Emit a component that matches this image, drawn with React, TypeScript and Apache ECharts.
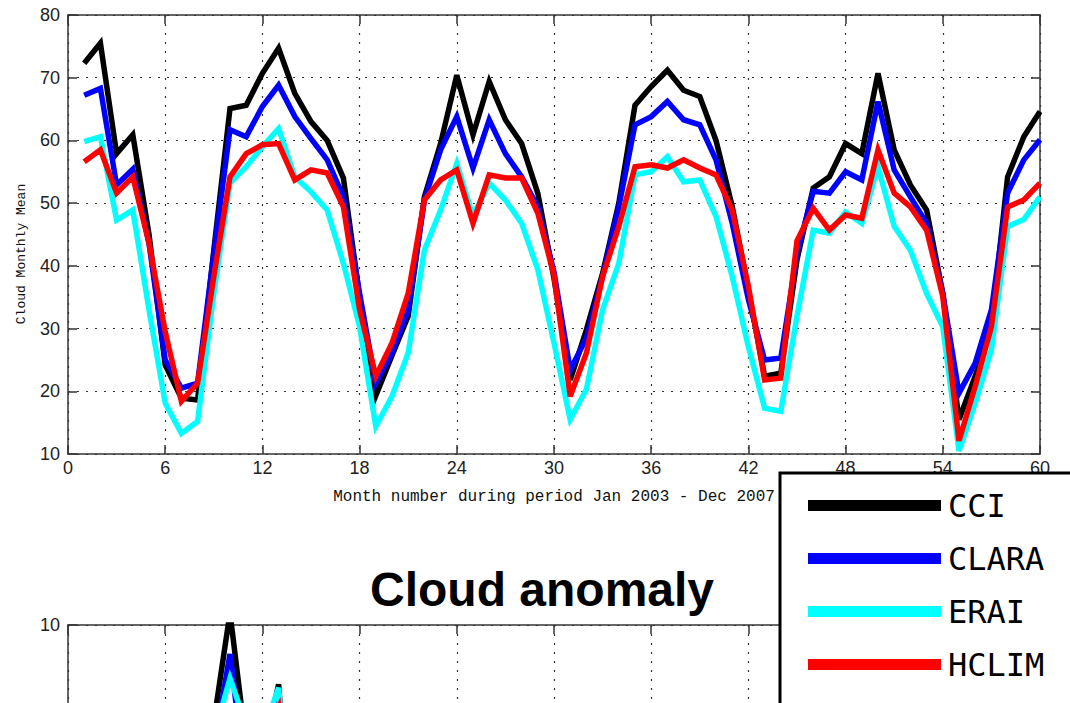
import React, { useEffect, useRef } from "react";
import * as echarts from "echarts";

// Month numbers 1..60 (Jan 2003 - Dec 2007)
const months: number[] = [
  1, 2, 3, 4, 5, 6, 7, 8, 9, 10, 11, 12, 13, 14, 15, 16, 17, 18, 19, 20,
  21, 22, 23, 24, 25, 26, 27, 28, 29, 30, 31, 32, 33, 34, 35, 36, 37, 38, 39, 40,
  41, 42, 43, 44, 45, 46, 47, 48, 49, 50, 51, 52, 53, 54, 55, 56, 57, 58, 59, 60,
];

const seriesNames = ["CCI", "CLARA", "ERAI", "HCLIM"];
const seriesColors = ["#000000", "#0000ff", "#00ffff", "#ff0000"];

const cci: number[] = [
  72.3, 75.5, 57.9, 60.9, 45.0, 24.2, 18.9, 18.6, 42.5, 65.1, 65.6, 70.7,
  74.7, 67.5, 63.0, 60.0, 54.0, 35.0, 19.3, 25.7, 32.0, 51.0, 59.5, 70.4,
  60.9, 69.4, 63.3, 59.5, 51.6, 38.0, 21.8, 29.8, 38.8, 50.0, 65.6, 68.6,
  71.2, 68.0, 67.0, 60.0, 49.5, 36.2, 22.4, 22.9, 41.0, 52.4, 54.2, 59.5,
  57.9, 70.7, 58.5, 52.9, 48.9, 35.6, 15.5, 22.4, 30.3, 54.2, 60.6, 64.6,
];

const clara: number[] = [
  67.2, 68.3, 52.9, 55.4, 43.6, 25.0, 20.5, 21.3, 42.0, 61.7, 60.6, 65.4,
  68.8, 63.8, 60.3, 56.9, 51.0, 35.6, 21.3, 26.1, 33.0, 50.5, 58.5, 63.8,
  55.6, 63.3, 57.9, 54.2, 49.4, 39.0, 23.4, 28.5, 38.3, 49.4, 62.5, 63.8,
  66.2, 63.3, 62.5, 56.9, 46.8, 34.6, 25.0, 25.3, 42.0, 51.9, 51.6, 55.0,
  53.7, 66.2, 55.3, 51.0, 46.8, 35.6, 19.7, 24.5, 33.0, 51.6, 56.9, 60.1,
];

const erai: number[] = [
  59.8, 60.6, 47.3, 48.9, 33.0, 18.1, 13.3, 15.2, 35.6, 53.2, 55.8, 59.0,
  61.9, 54.2, 51.8, 48.9, 40.4, 30.3, 14.4, 19.2, 26.1, 42.5, 48.9, 56.3,
  47.9, 53.2, 50.5, 46.8, 39.4, 27.7, 15.5, 20.3, 33.0, 40.4, 54.5, 55.0,
  57.4, 53.4, 53.7, 47.9, 38.3, 27.1, 17.3, 16.8, 32.0, 45.7, 45.2, 48.6,
  46.8, 55.8, 46.3, 42.5, 35.6, 30.3, 10.5, 18.1, 26.6, 46.3, 47.4, 51.0,
];

const hclim: number[] = [
  56.6, 58.5, 51.6, 54.2, 43.6, 29.5, 18.4, 21.3, 38.3, 54.2, 57.9, 59.3,
  59.5, 53.7, 55.3, 54.8, 49.4, 33.0, 22.4, 27.7, 35.6, 50.5, 53.7, 55.3,
  46.8, 54.5, 54.0, 54.0, 48.4, 38.5, 19.2, 26.1, 38.3, 46.3, 55.8, 56.1,
  55.6, 56.9, 55.6, 54.5, 48.9, 36.7, 21.8, 22.1, 44.0, 49.2, 45.7, 48.1,
  47.6, 58.5, 51.6, 49.4, 45.7, 35.1, 12.1, 20.8, 30.3, 49.4, 50.5, 53.2,
];

const allValues = [cci, clara, erai, hclim];

// anomaly = monthly value minus the mean of the same calendar month over the period
function anomaly(v: number[]): number[] {
  return v.map((x, i) => {
    let s = 0;
    let n = 0;
    for (let j = i % 12; j < v.length; j += 12) {
      s += v[j];
      n++;
    }
    return +(x - s / n).toFixed(2);
  });
}

const frameColor = "#333";
const dotted = { color: "#333", type: [2, 7] as number[], width: 1.2 };
const tickFont = { fontFamily: "Liberation Sans", fontSize: 18, color: "#222" };

export default function App() {
  const ref = useRef<HTMLDivElement>(null);

  useEffect(() => {
    if (!ref.current) return;
    const chart = echarts.init(ref.current, undefined, { renderer: "svg" });

    const baseX = (gridIndex: number, showLabel: boolean, extra: any = {}) => ({
      type: "value",
      gridIndex,
      min: 0,
      max: 60,
      interval: 6,
      position: "bottom",
      axisLine: { show: true, onZero: false, lineStyle: { color: frameColor, width: 1.5 } },
      axisTick: { show: true, inside: true, length: 9, lineStyle: { color: frameColor, width: 1.5 } },
      axisLabel: { show: showLabel, ...tickFont, margin: 5 },
      splitLine: { show: true, lineStyle: dotted },
      ...extra,
    });
    const topX = (gridIndex: number) => ({
      type: "value",
      gridIndex,
      min: 0,
      max: 60,
      interval: 6,
      position: "top",
      axisLine: { show: true, onZero: false, lineStyle: { color: frameColor, width: 1.5 } },
      axisTick: { show: true, inside: true, length: 9, lineStyle: { color: frameColor, width: 1.5 } },
      axisLabel: { show: false },
      splitLine: { show: false },
    });
    const leftY = (gridIndex: number, min: number, max: number, interval: number, extra: any = {}) => ({
      type: "value",
      gridIndex,
      min,
      max,
      interval,
      position: "left",
      axisLine: { show: true, onZero: false, lineStyle: { color: frameColor, width: 1.5 } },
      axisTick: { show: true, inside: true, length: 9, lineStyle: { color: frameColor, width: 1.5 } },
      axisLabel: { show: true, ...tickFont, margin: 8 },
      splitLine: { show: true, lineStyle: dotted },
      ...extra,
    });
    const rightY = (gridIndex: number, min: number, max: number, interval: number) => ({
      type: "value",
      gridIndex,
      min,
      max,
      interval,
      position: "right",
      axisLine: { show: true, onZero: false, lineStyle: { color: frameColor, width: 1.5 } },
      axisTick: { show: true, inside: true, length: 9, lineStyle: { color: frameColor, width: 1.5 } },
      axisLabel: { show: false },
      splitLine: { show: false },
    });

    const series: any[] = [];
    allValues.forEach((vals, k) => {
      series.push({
        name: seriesNames[k],
        type: "line",
        xAxisIndex: 0,
        yAxisIndex: 0,
        data: months.map((m, i) => [m, vals[i]]),
        showSymbol: false,
        symbol: "none",
        lineStyle: { color: seriesColors[k], width: 5.5, join: "miter" },
        itemStyle: { color: seriesColors[k] },
        z: 3 + k,
      });
    });
    allValues.forEach((vals, k) => {
      const an = anomaly(vals);
      series.push({
        name: seriesNames[k],
        type: "line",
        xAxisIndex: 2,
        yAxisIndex: 2,
        data: months.map((m, i) => [m, an[i]]),
        showSymbol: false,
        symbol: "none",
        clip: true,
        lineStyle: { color: seriesColors[k], width: 5.5, join: "miter" },
        itemStyle: { color: seriesColors[k] },
        z: 3 + k,
      });
    });

    chart.setOption({
      animation: false,
      backgroundColor: "#ffffff",
      grid: [
        { left: 68, right: 30, top: 15, height: 439 },
        { left: 68, right: 30, top: 625, height: 439 },
      ],
      xAxis: [
        baseX(0, true, {
          name: "Month number during period Jan 2003 - Dec 2007",
          nameLocation: "middle",
          nameGap: 35,
          nameTextStyle: { fontFamily: "Liberation Mono", fontSize: 16, color: "#111" },
        }),
        topX(0),
        baseX(1, false),
        topX(1),
      ],
      yAxis: [
        leftY(0, 10, 80, 10),
        rightY(0, 10, 80, 10),
        leftY(1, -10, 10, 5, {
          axisLabel: {
            show: true,
            ...tickFont,
            margin: 8,
            formatter: (v: number) => (v === 10 ? "10" : ""),
          },
        }),
        rightY(1, -10, 10, 5),
      ],
      legend: {
        show: true,
        orient: "vertical",
        left: 803,
        top: 483,
        z: 100,
        data: seriesNames,
        icon: "rect",
        itemWidth: 133,
        itemHeight: 11,
        itemGap: 18,
        selectedMode: false,
        textStyle: {
          fontFamily: "DejaVu Sans Mono",
          fontSize: 32,
          lineHeight: 32,
          color: "#000",
          padding: [3, 0, 0, 2],
        },
      },
      graphic: [
        {
          type: "text",
          x: 21,
          y: 254,
          rotation: Math.PI / 2,
          style: {
            text: "Cloud Monthly Mean",
            fontFamily: "Liberation Mono",
            fontSize: 13,
            fill: "#111",
            textAlign: "center",
            textVerticalAlign: "middle",
          },
        },
        {
          type: "rect",
          z: 50,
          shape: { x: 780, y: 473, width: 320, height: 260 },
          style: { fill: "#ffffff", stroke: "#000000", lineWidth: 3 },
        },
        {
          type: "text",
          z: 50,
          x: 370,
          y: 589,
          style: {
            text: "Cloud anomaly",
            fontFamily: "Liberation Sans",
            fontWeight: "bold",
            fontSize: 48,
            fill: "#000",
            textAlign: "left",
            textVerticalAlign: "middle",
          },
        },
      ],
      series,
    });

    return () => {
      chart.dispose();
    };
  }, []);

  return (
    <div
      style={{
        position: "absolute",
        left: 0,
        top: 0,
        width: 1070,
        height: 703,
        overflow: "hidden",
        background: "#fff",
      }}
    >
      <div ref={ref} style={{ width: 1070, height: 1100 }} />
    </div>
  );
}
